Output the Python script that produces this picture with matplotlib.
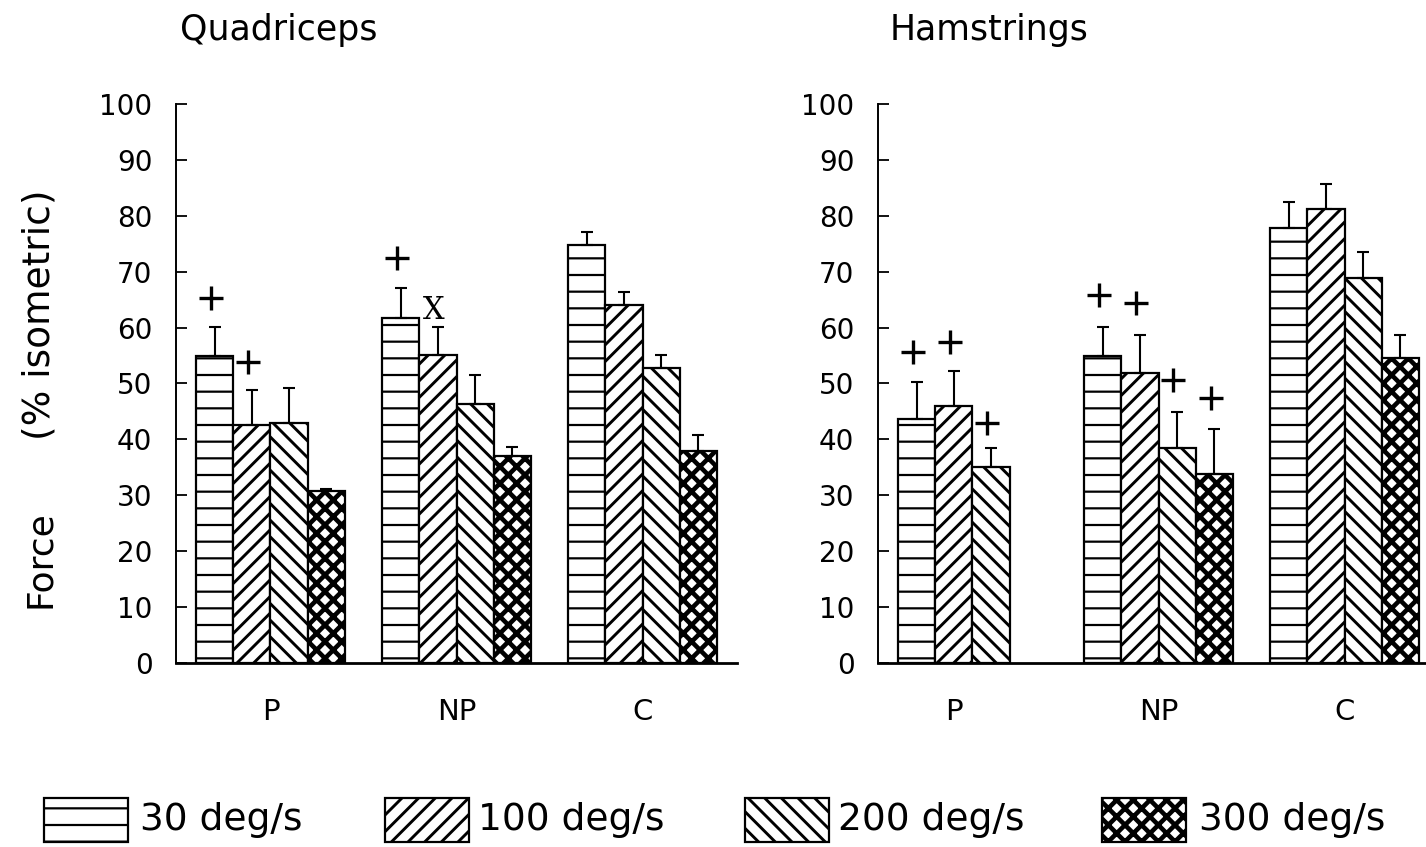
import numpy as np
import matplotlib
matplotlib.use("Agg")
import matplotlib.pyplot as plt
from matplotlib.patches import Rectangle

W, H = 1426, 847

GROUPS = ["P", "NP", "C"]
SPEEDS = ["30 deg/s", "100 deg/s", "200 deg/s", "300 deg/s"]

# mean force (% isometric), one row per speed, columns P / NP / C
quad_mean = [[54.9, 61.7, 74.8],
             [42.6, 55.1, 64.0],
             [42.9, 46.3, 52.8],
             [30.8, 37.0, 37.9]]
quad_err = [[5.2, 5.4, 2.3],
            [6.3, 5.0, 2.4],
            [6.3, 5.2, 2.3],
            [0.3, 1.6, 2.9]]

ham_mean = [[43.6, 54.9, 77.8],
            [46.0, 51.9, 81.2],
            [35.1, 38.5, 68.9],
            [np.nan, 33.8, 54.6]]
ham_err = [[6.7, 5.2, 4.7],
           [6.2, 6.8, 4.5],
           [3.4, 6.4, 4.6],
           [np.nan, 8.1, 4.1]]

# significance marks: (group, speed, height, symbol)
quad_marks = [(0, 0, 65.3, "+"), (0, 1, 53.8, "+"),
              (1, 0, 72.5, "+"), (1, 1, 63.1, "X")]
ham_marks = [(0, 0, 55.6, "+"), (0, 1, 57.4, "+"), (0, 2, 42.9, "+"),
             (1, 0, 65.8, "+"), (1, 1, 64.4, "+"), (1, 2, 50.6, "+"),
             (1, 3, 47.4, "+")]

HATCHES = ["-", "//", "\\\\", "xx"]
HATCH_LW = [1.6, 2.1, 2.1, 3.3]
GROUP_STEP = 5

plt.rcParams["font.family"] = "DejaVu Sans"
plt.rcParams["hatch.linewidth"] = 2.0


def hatched_bar(ax, x, h, i):
    with plt.rc_context({"hatch.linewidth": HATCH_LW[i]}):
        bars = ax.bar(x, h, width=1.0, color="white", edgecolor="black",
                      linewidth=1.6, hatch=HATCHES[i], zorder=2)
    for b in bars:
        if hasattr(b, "set_hatch_linewidth"):
            b.set_hatch_linewidth(HATCH_LW[i])
    return bars


def draw_panel(ax, means, errs, marks, title, title_dx):
    centers = [[] for _ in GROUPS]
    for i, (m, e) in enumerate(zip(means, errs)):
        x = np.arange(len(GROUPS)) * GROUP_STEP + i
        m = np.asarray(m, float)
        e = np.asarray(e, float)
        ok = ~np.isnan(m)
        hatched_bar(ax, x[ok], m[ok], i)
        ax.errorbar(x[ok], m[ok], yerr=[np.zeros(ok.sum()), e[ok]], fmt="none",
                    ecolor="black", elinewidth=1.5, capsize=4.5, capthick=1.5, zorder=3)
        for g in np.flatnonzero(ok):
            centers[g].append(x[g])

    for g, s, y, sym in marks:
        xm = g * GROUP_STEP + s - 0.1
        if sym == "+":
            ax.plot(xm, y, marker="+", markersize=17, mew=2.4, color="black", zorder=4)
        else:
            ax.text(xm, y, sym, ha="center", va="center", fontsize=22,
                    family="DejaVu Serif", zorder=4)

    ax.set_xlim(-1.04, 14.04)
    ax.set_ylim(0, 100)
    ax.set_yticks(range(0, 101, 10))
    ax.set_xticks([np.mean(c) for c in centers], GROUPS)
    ax.tick_params(axis="y", direction="in", length=8, width=1.3, pad=17, labelsize=20)
    ax.tick_params(axis="x", length=0, pad=25, labelsize=21)
    for side in ("top", "right"):
        ax.spines[side].set_visible(False)
    ax.spines["left"].set_linewidth(1.4)
    ax.spines["bottom"].set_linewidth(2.0)
    ax.text(title_dx, 1 + 74 / 559, title, transform=ax.transAxes,
            ha="left", va="center", fontsize=25)


fig = plt.figure(figsize=(W / 100, H / 100), dpi=100)
ax_q = fig.add_axes([176 / W, (H - 663) / H, 561 / W, 559 / H])
ax_h = fig.add_axes([878 / W, (H - 663) / H, 561 / W, 559 / H])

draw_panel(ax_q, quad_mean, quad_err, quad_marks, "Quadriceps", 4 / 561)
draw_panel(ax_h, ham_mean, ham_err, ham_marks, "Hamstrings", 12 / 561)

# y label in two pieces, as set on the page
fig.text(40 / W, 1 - 559 / H, "Force", rotation=90,
         ha="center", va="center", fontsize=26)
fig.text(40 / W, 1 - 315 / H, "(% isometric)", rotation=90,
         ha="center", va="center", fontsize=27)

# legend row along the bottom
box_x = [44, 385, 745, 1102]
text_x = [140, 478, 838, 1199]
for i, label in enumerate(SPEEDS):
    with plt.rc_context({"hatch.linewidth": HATCH_LW[i]}):
        rect = Rectangle((box_x[i] / W, 1 - 842 / H), 84 / W, 44 / H,
                         transform=fig.transFigure, facecolor="white",
                         edgecolor="black", linewidth=1.6, hatch=HATCHES[i])
    if hasattr(rect, "set_hatch_linewidth"):
        rect.set_hatch_linewidth(HATCH_LW[i])
    fig.add_artist(rect)
    fig.text(text_x[i] / W, 1 - 820 / H, label, ha="left", va="center", fontsize=27)

fig.savefig("out.png", dpi=100)
